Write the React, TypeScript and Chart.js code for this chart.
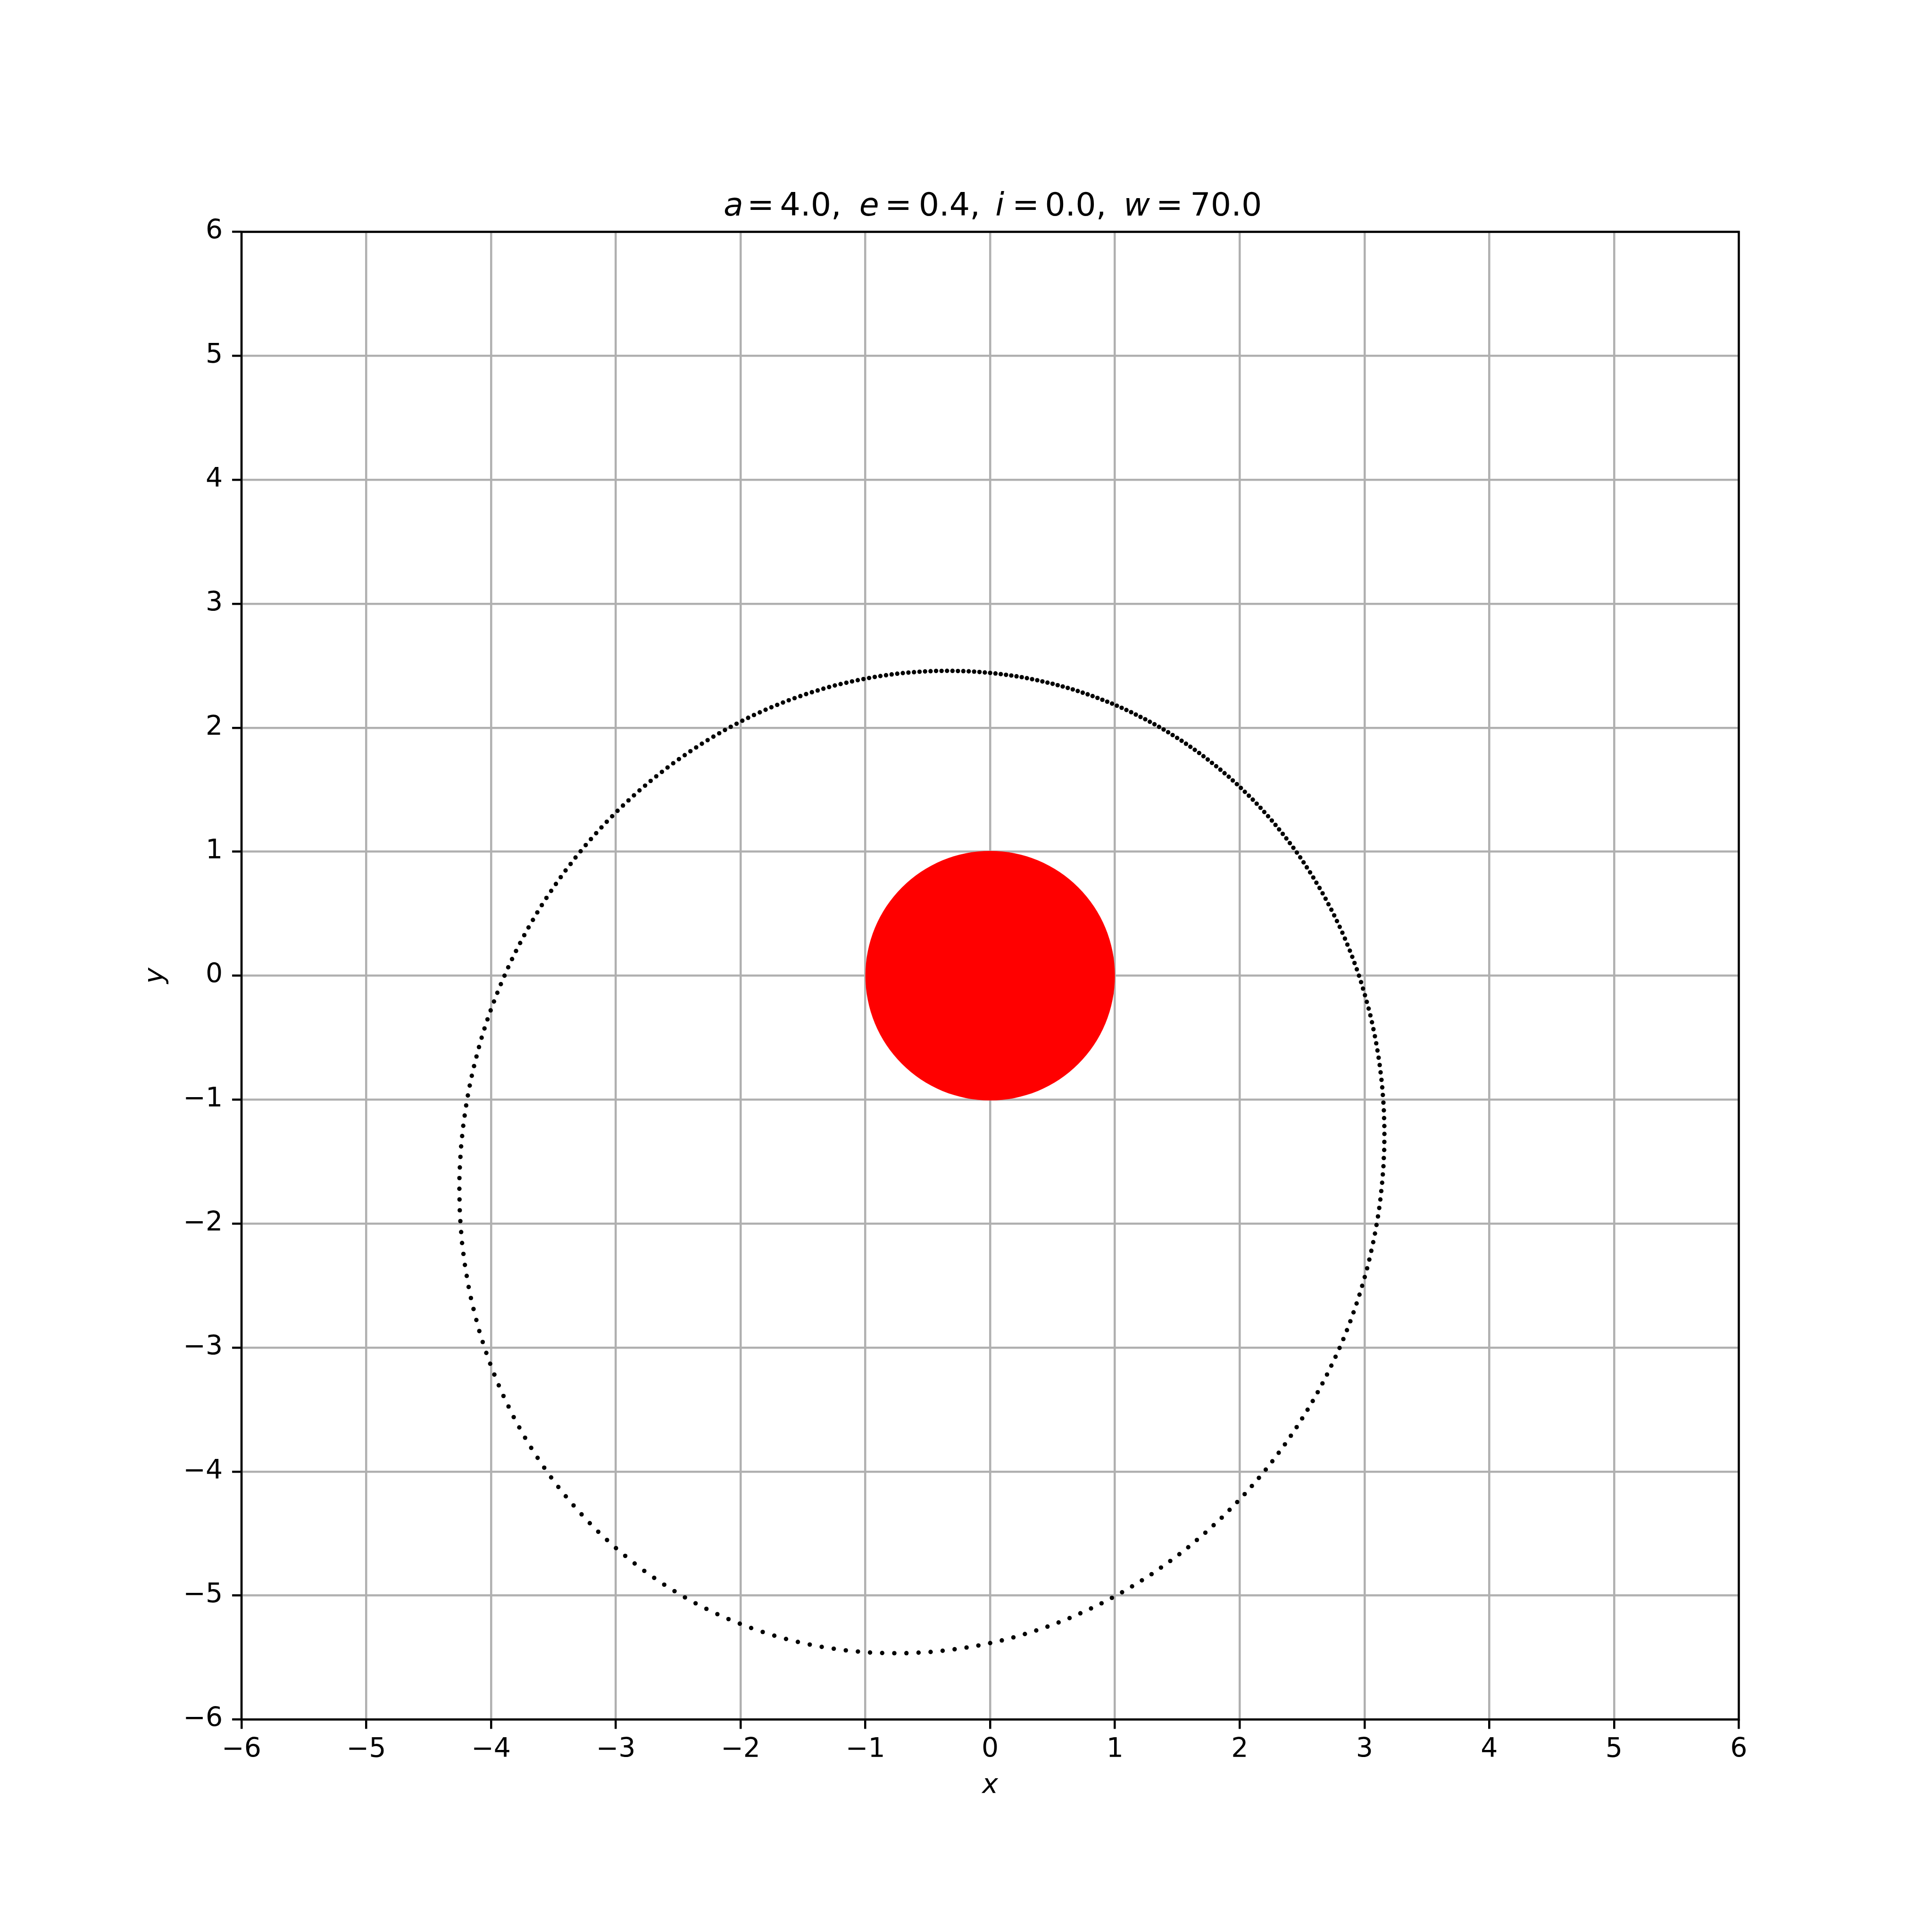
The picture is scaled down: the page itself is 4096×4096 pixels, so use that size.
import React, { useEffect, useRef } from "react";
import { Chart, registerables } from "chart.js";

Chart.register(...registerables);

// ---- Data (orbit points: true anomaly in degrees, radius from the central body) ----
const trueAnomalyDeg = [
  0, 1, 2, 3, 4, 5, 6, 7, 8, 9, 10, 11, 12, 13, 14, 15, 16, 17, 18, 19,
  20, 21, 22, 23, 24, 25, 26, 27, 28, 29, 30, 31, 32, 33, 34, 35, 36, 37, 38, 39,
  40, 41, 42, 43, 44, 45, 46, 47, 48, 49, 50, 51, 52, 53, 54, 55, 56, 57, 58, 59,
  60, 61, 62, 63, 64, 65, 66, 67, 68, 69, 70, 71, 72, 73, 74, 75, 76, 77, 78, 79,
  80, 81, 82, 83, 84, 85, 86, 87, 88, 89, 90, 91, 92, 93, 94, 95, 96, 97, 98, 99,
  100, 101, 102, 103, 104, 105, 106, 107, 108, 109, 110, 111, 112, 113, 114, 115, 116, 117, 118, 119,
  120, 121, 122, 123, 124, 125, 126, 127, 128, 129, 130, 131, 132, 133, 134, 135, 136, 137, 138, 139,
  140, 141, 142, 143, 144, 145, 146, 147, 148, 149, 150, 151, 152, 153, 154, 155, 156, 157, 158, 159,
  160, 161, 162, 163, 164, 165, 166, 167, 168, 169, 170, 171, 172, 173, 174, 175, 176, 177, 178, 179,
  180, 181, 182, 183, 184, 185, 186, 187, 188, 189, 190, 191, 192, 193, 194, 195, 196, 197, 198, 199,
  200, 201, 202, 203, 204, 205, 206, 207, 208, 209, 210, 211, 212, 213, 214, 215, 216, 217, 218, 219,
  220, 221, 222, 223, 224, 225, 226, 227, 228, 229, 230, 231, 232, 233, 234, 235, 236, 237, 238, 239,
  240, 241, 242, 243, 244, 245, 246, 247, 248, 249, 250, 251, 252, 253, 254, 255, 256, 257, 258, 259,
  260, 261, 262, 263, 264, 265, 266, 267, 268, 269, 270, 271, 272, 273, 274, 275, 276, 277, 278, 279,
  280, 281, 282, 283, 284, 285, 286, 287, 288, 289, 290, 291, 292, 293, 294, 295, 296, 297, 298, 299,
  300, 301, 302, 303, 304, 305, 306, 307, 308, 309, 310, 311, 312, 313, 314, 315, 316, 317, 318, 319,
  320, 321, 322, 323, 324, 325, 326, 327, 328, 329, 330, 331, 332, 333, 334, 335, 336, 337, 338, 339,
  340, 341, 342, 343, 344, 345, 346, 347, 348, 349, 350, 351, 352, 353, 354, 355, 356, 357, 358, 359,
];

const orbitRadius = [
  2.400, 2.400, 2.400, 2.401, 2.402, 2.403, 2.404, 2.405, 2.407, 2.408,
  2.410, 2.413, 2.415, 2.418, 2.421, 2.424, 2.427, 2.430, 2.434, 2.438,
  2.442, 2.446, 2.451, 2.456, 2.461, 2.466, 2.471, 2.477, 2.483, 2.489,
  2.496, 2.502, 2.509, 2.516, 2.523, 2.531, 2.539, 2.547, 2.555, 2.563,
  2.572, 2.581, 2.590, 2.599, 2.609, 2.619, 2.629, 2.640, 2.651, 2.662,
  2.673, 2.684, 2.696, 2.708, 2.720, 2.733, 2.746, 2.759, 2.772, 2.786,
  2.800, 2.814, 2.829, 2.844, 2.859, 2.874, 2.890, 2.906, 2.922, 2.939,
  2.956, 2.973, 2.990, 3.008, 3.026, 3.045, 3.064, 3.083, 3.102, 3.122,
  3.142, 3.162, 3.183, 3.204, 3.225, 3.247, 3.269, 3.291, 3.314, 3.337,
  3.360, 3.384, 3.408, 3.432, 3.457, 3.481, 3.507, 3.532, 3.558, 3.584,
  3.611, 3.638, 3.665, 3.692, 3.720, 3.748, 3.776, 3.805, 3.834, 3.863,
  3.892, 3.922, 3.952, 3.982, 4.013, 4.044, 4.075, 4.106, 4.137, 4.168,
  4.200, 4.232, 4.264, 4.296, 4.328, 4.360, 4.393, 4.425, 4.458, 4.490,
  4.523, 4.556, 4.588, 4.620, 4.653, 4.685, 4.717, 4.750, 4.781, 4.813,
  4.844, 4.876, 4.907, 4.937, 4.967, 4.998, 5.027, 5.056, 5.085, 5.113,
  5.141, 5.168, 5.194, 5.221, 5.246, 5.271, 5.295, 5.318, 5.341, 5.363,
  5.384, 5.404, 5.423, 5.441, 5.459, 5.476, 5.491, 5.506, 5.519, 5.532,
  5.544, 5.554, 5.564, 5.572, 5.580, 5.586, 5.591, 5.595, 5.598, 5.599,
  5.600, 5.599, 5.598, 5.595, 5.591, 5.586, 5.580, 5.572, 5.564, 5.554,
  5.544, 5.532, 5.519, 5.506, 5.491, 5.476, 5.459, 5.441, 5.423, 5.404,
  5.384, 5.363, 5.341, 5.318, 5.295, 5.271, 5.246, 5.221, 5.194, 5.168,
  5.141, 5.113, 5.085, 5.056, 5.027, 4.998, 4.967, 4.937, 4.907, 4.876,
  4.844, 4.813, 4.781, 4.750, 4.717, 4.685, 4.653, 4.620, 4.588, 4.556,
  4.523, 4.490, 4.458, 4.425, 4.393, 4.360, 4.328, 4.296, 4.264, 4.232,
  4.200, 4.168, 4.137, 4.106, 4.075, 4.044, 4.013, 3.982, 3.952, 3.922,
  3.892, 3.863, 3.834, 3.805, 3.776, 3.748, 3.720, 3.692, 3.665, 3.638,
  3.611, 3.584, 3.558, 3.532, 3.507, 3.481, 3.457, 3.432, 3.408, 3.384,
  3.360, 3.337, 3.314, 3.291, 3.269, 3.247, 3.225, 3.204, 3.183, 3.162,
  3.142, 3.122, 3.102, 3.083, 3.064, 3.045, 3.026, 3.008, 2.990, 2.973,
  2.956, 2.939, 2.922, 2.906, 2.890, 2.874, 2.859, 2.844, 2.829, 2.814,
  2.800, 2.786, 2.772, 2.759, 2.746, 2.733, 2.720, 2.708, 2.696, 2.684,
  2.673, 2.662, 2.651, 2.640, 2.629, 2.619, 2.609, 2.599, 2.590, 2.581,
  2.572, 2.563, 2.555, 2.547, 2.539, 2.531, 2.523, 2.516, 2.509, 2.502,
  2.496, 2.489, 2.483, 2.477, 2.471, 2.466, 2.461, 2.456, 2.451, 2.446,
  2.442, 2.438, 2.434, 2.430, 2.427, 2.424, 2.421, 2.418, 2.415, 2.413,
  2.410, 2.408, 2.407, 2.405, 2.404, 2.403, 2.402, 2.401, 2.400, 2.400,
];

// argument of periapsis (w in the title), degrees
const periapsisArgDeg = 70;

// central body (red disc)
const starX = [0];
const starY = [0];
const starRadius = [1];

// axis ticks
const xTicks = [-6, -5, -4, -3, -2, -1, 0, 1, 2, 3, 4, 5, 6];
const yTicks = [-6, -5, -4, -3, -2, -1, 0, 1, 2, 3, 4, 5, 6];

// title pieces (mathtext: variables italic)
const titleTokens = ["a", "=", "4.0,", "e", "=", "0.4,", "i", "=", "0.0,", "w", "=", "70.0"];
const titleItalic = [true, false, false, true, false, false, true, false, false, true, false, false];

// ---- Layout (scaled from the 5000px reference to 4096px) ----
const S = 4096 / 5000;
const W = 4096;
const H = 4096;
// token ink centres relative to axes centre, in reference pixels
const titleTokenOffsets = [-664.5, -594, -464.5, -313, -237.5, -105.5, 25, 92, 221, 379.5, 464, 610.5];

const FONT = "'DejaVu Sans', 'Liberation Sans', sans-serif";
const tickFont = 69.44 * S;
const titleFont = 83.33 * S;
const lw = 5.56 * S;
const tickLen = 24.3 * S;

const fmt = (v: number) => (v < 0 ? "\u2212" + Math.abs(v) : String(v));

export default function App() {
  const ref = useRef<HTMLCanvasElement | null>(null);

  useEffect(() => {
    if (!ref.current) return;

    const orbitData = trueAnomalyDeg.map((nu, i) => {
      const phi = ((nu + periapsisArgDeg) * Math.PI) / 180;
      return { x: orbitRadius[i] * Math.cos(phi), y: orbitRadius[i] * Math.sin(phi) };
    });
    const starData = starX.map((x, i) => ({ x, y: starY[i] }));

    const framePlugin = {
      id: "frameAndTitle",
      afterDraw(chart: any) {
        const { ctx, chartArea } = chart;
        ctx.save();
        ctx.strokeStyle = "#000";
        ctx.lineWidth = lw;
        ctx.lineJoin = "miter";
        ctx.strokeRect(chartArea.left, chartArea.top, chartArea.right - chartArea.left, chartArea.bottom - chartArea.top);

        const cx = (chartArea.left + chartArea.right) / 2;
        const baseY = chartArea.top - 41.67 * S;
        ctx.fillStyle = "#000";
        ctx.textAlign = "center";
        ctx.textBaseline = "alphabetic";
        titleTokens.forEach((t, i) => {
          ctx.font = `${titleItalic[i] ? "italic " : ""}${titleFont}px ${FONT}`;
          ctx.fillText(t, cx + titleTokenOffsets[i] * S, baseY);
        });
        ctx.restore();
      },
    };

    const axisCommon = (ticksArr: number[]) => ({
      type: "linear" as const,
      min: -6,
      max: 6,
      afterBuildTicks: (scale: any) => {
        scale.ticks = ticksArr.map((v) => ({ value: v }));
      },
      grid: {
        display: true,
        color: "#b0b0b0",
        lineWidth: lw,
        drawOnChartArea: true,
        drawTicks: true,
        tickLength: tickLen,
        tickColor: "#000",
        tickWidth: lw,
      },
      border: { display: false },
    });

    const chart = new Chart(ref.current, {
      type: "scatter",
      data: {
        datasets: [
          {
            label: "orbit",
            data: orbitData,
            pointStyle: "circle",
            pointRadius: 4.7,
            pointBackgroundColor: "#000000",
            pointBorderWidth: 0,
            showLine: false,
          },
          {
            label: "star",
            data: starData,
            pointStyle: "circle",
            pointRadius: (c: any) => {
              const sx = c.chart.scales.x;
              return Math.abs(sx.getPixelForValue(starRadius[0]) - sx.getPixelForValue(0));
            },
            pointBackgroundColor: "#ff0000",
            pointBorderWidth: 0,
            showLine: false,
          },
        ],
      },
      options: {
        responsive: false,
        animation: false,
        events: [],
        devicePixelRatio: 1,
        layout: { padding: { left: 296, right: W - 4500 * S, top: 600 * S, bottom: H - 4450 * S - 175 } },
        plugins: {
          legend: { display: false },
          tooltip: { enabled: false },
          title: { display: false },
        },
        scales: {
          x: {
            ...axisCommon(xTicks),
            position: "bottom",
            afterFit: (scale: any) => {
              scale.height = 175;
            },
            ticks: {
              color: "#000",
              autoSkip: false,
              maxRotation: 0,
              minRotation: 0,
              padding: 10.5,
              font: { family: FONT, size: tickFont, lineHeight: 1.2 },
              callback: (v: any) => fmt(Number(v)),
            },
            title: {
              display: true,
              text: "x",
              color: "#000",
              padding: 0,
              font: { family: FONT, size: tickFont, style: "italic", lineHeight: 1.2 },
            },
          },
          y: {
            ...axisCommon(yTicks),
            position: "left",
            afterFit: (scale: any) => {
              scale.width = 216;
            },
            ticks: {
              color: "#000",
              autoSkip: false,
              padding: 24.3 * S,
              font: { family: FONT, size: tickFont, lineHeight: 1.2 },
              callback: (v: any) => fmt(Number(v)),
            },
            title: {
              display: true,
              text: "y",
              color: "#000",
              padding: 0,
              font: { family: FONT, size: tickFont, style: "italic", lineHeight: 1.2 },
            },
          },
        },
      },
      plugins: [framePlugin],
    } as any);

    return () => chart.destroy();
  }, []);

  return (
    <div style={{ position: "fixed", left: 0, top: 0, width: W, height: H, background: "#ffffff" }}>
      <canvas ref={ref} width={W} height={H} style={{ display: "block", width: W, height: H }} />
    </div>
  );
}
